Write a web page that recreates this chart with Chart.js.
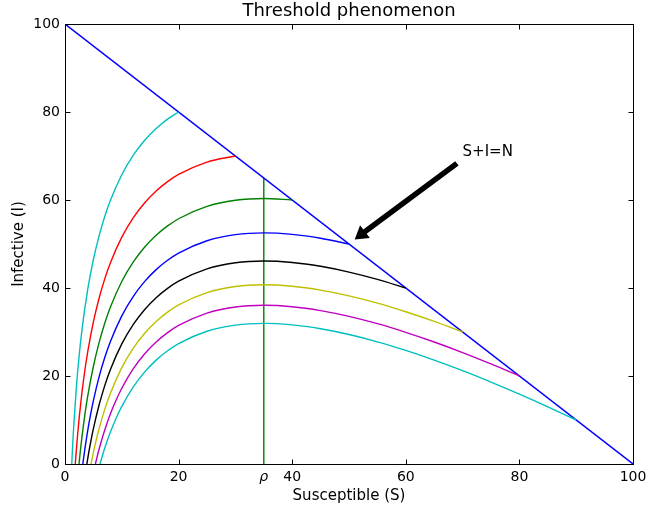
<!DOCTYPE html>
<html><head><meta charset="utf-8">
<script src="https://cdn.jsdelivr.net/npm/chart.js@4.4.1/dist/chart.umd.min.js"></script>
<style>html,body{margin:0;padding:0;background:#fff}</style>
</head><body>
<canvas id="c" width="647" height="508" style="display:block;width:647px;height:508px"></canvas>
<script>
// ---- tick labels ----
const xTickValues = [0, 20, 35, 40, 60, 80, 100];
const xTickLabels = ['0', '20', 'ρ', '40', '60', '80', '100'];
const yTickValues = [0, 20, 40, 60, 80, 100];
const rho = 35;

// ---- trajectories: susceptible (S) and infective (I) ----
const S20 = [1.19, 1.3, 1.5, 2, 2.5, 3, 4, 5, 6, 7, 8, 10, 12, 14, 16, 18, 20];
const I20 = [0, 3.03, 7.84, 17.41, 24.72, 30.60, 39.67, 46.48, 51.86, 56.26, 59.93, 65.74, 70.12, 73.52, 76.19, 78.31, 80.00];

const S30 = [1.81, 2, 2.2, 2.5, 3, 3.5, 4, 5, 6, 7, 8, 10, 12, 14, 16, 18, 20, 25, 30];
const I30 = [0, 3.22, 6.36, 10.53, 16.41, 21.31, 25.48, 32.29, 37.67, 42.07, 45.74, 51.55, 55.93, 59.33, 62.00, 64.12, 65.81, 68.62, 70.00];

const S40 = [2.47, 2.7, 3, 3.5, 4, 5, 6, 7, 8, 10, 12, 14, 16, 18, 20, 25, 30, 35, 40];
const I40 = [0, 2.95, 6.34, 11.24, 15.41, 22.22, 27.60, 32.00, 35.67, 41.48, 45.86, 49.26, 51.93, 54.05, 55.74, 58.55, 59.93, 60.33, 60.00];

const S50 = [3.14, 3.3, 3.5, 4, 4.5, 5, 6, 7, 8, 10, 12, 14, 16, 18, 20, 25, 30, 35, 40, 45, 50];
const I50 = [0, 1.57, 3.43, 7.60, 11.22, 14.41, 19.79, 24.19, 27.86, 33.67, 38.05, 41.45, 44.12, 46.24, 47.93, 50.74, 52.12, 52.52, 52.19, 51.31, 50.00];

const S60 = [3.85, 4, 4.2, 4.5, 5, 6, 7, 8, 10, 12, 14, 16, 18, 20, 25, 30, 35, 40, 45, 50, 55, 60];
const I60 = [0, 1.22, 2.73, 4.84, 8.03, 13.41, 17.81, 21.48, 27.29, 31.67, 35.07, 37.74, 39.86, 41.55, 44.36, 45.74, 46.14, 45.81, 44.93, 43.62, 41.96, 40.00];

const S70 = [4.58, 4.8, 5, 5.5, 6, 7, 8, 10, 12, 14, 16, 18, 20, 25, 30, 35, 40, 45, 50, 55, 60, 65, 70];
const I70 = [0, 1.40, 2.63, 5.47, 8.01, 12.41, 16.08, 21.89, 26.27, 29.67, 32.34, 34.46, 36.15, 38.96, 40.34, 40.74, 40.41, 39.53, 38.22, 36.56, 34.60, 32.40, 30.00];

const S80 = [5.35, 5.6, 6, 6.5, 7, 8, 9, 10, 12, 14, 16, 18, 20, 25, 30, 35, 40, 45, 50, 55, 60, 65, 70, 75, 80];
const I80 = [0, 1.33, 3.34, 5.64, 7.74, 11.41, 14.53, 17.22, 21.60, 25.00, 27.67, 29.79, 31.48, 34.29, 35.67, 36.07, 35.74, 34.86, 33.55, 31.89, 29.93, 27.73, 25.33, 22.74, 20.00];

const S90 = [6.16, 6.5, 7, 7.5, 8, 9, 10, 12, 14, 16, 18, 20, 25, 30, 35, 40, 45, 50, 55, 60, 65, 70, 75, 80, 85, 90];
const I90 = [0, 1.52, 3.62, 5.53, 7.29, 10.41, 13.10, 17.48, 20.88, 23.55, 25.67, 27.36, 30.17, 31.55, 31.95, 31.62, 30.74, 29.43, 27.77, 25.81, 23.61, 21.21, 18.62, 15.88, 13.00, 10.00];

// line S + I = N
const lineS = [0, 100];
const lineI = [100, 0];
// threshold line S = rho
const rhoS = [35, 35];
const rhoI = [0, 65];

// annotation
const annText = 'S+I=N';
const annTextAt = [70, 70];
const annArrowTo = [50, 50];

function pts(xs, ys) { return xs.map((v, i) => ({x: v, y: ys[i]})); }

const curveDefs = [
  [S20, I20, '#00bfbf'],
  [S30, I30, '#ff0000'],
  [S40, I40, '#008000'],
  [S50, I50, '#0000ff'],
  [S60, I60, '#000000'],
  [S70, I70, '#bfbf00'],
  [S80, I80, '#bf00bf'],
  [S90, I90, '#00bfbf']
];

const LW = 1.4;
const datasets = curveDefs.map(([s, i, c]) => ({
  data: pts(s, i), borderColor: c, borderWidth: LW, pointRadius: 0,
  cubicInterpolationMode: 'monotone', fill: false
}));
datasets.push({data: pts(lineS, lineI), borderColor: '#0000ff', borderWidth: LW, pointRadius: 0, tension: 0, fill: false});
datasets.push({data: pts(rhoS, rhoI), borderColor: '#008000', borderWidth: LW, pointRadius: 0, tension: 0, fill: false});

const FONT = "'DejaVu Sans', sans-serif";

const decor = {
  id: 'decor',
  afterDatasetsDraw(chart) {
    const {ctx, chartArea: a, scales: {x, y}} = chart;
    ctx.save();
    ctx.strokeStyle = '#000';
    ctx.lineWidth = 1;
    const L = Math.round(a.left) + 0.5, R = Math.round(a.right) + 0.5;
    const T = Math.round(a.top) + 0.5, B = Math.round(a.bottom) + 0.5;
    ctx.beginPath();
    yTickValues.forEach(v => {
      const p = Math.round(y.getPixelForValue(v)) + 0.5;
      ctx.moveTo(L, p); ctx.lineTo(L + 5, p);
      ctx.moveTo(R, p); ctx.lineTo(R - 5, p);
    });
    xTickValues.filter(v => v !== rho).forEach(v => {
      const p = Math.round(x.getPixelForValue(v)) + 0.5;
      ctx.moveTo(p, B); ctx.lineTo(p, B - 5);
      ctx.moveTo(p, T); ctx.lineTo(p, T + 5);
    });
    ctx.stroke();
    ctx.strokeRect(L, T, R - L, B - T);

    // annotation text
    const tx = x.getPixelForValue(annTextAt[0]), ty = y.getPixelForValue(annTextAt[1]);
    ctx.fillStyle = '#000';
    ctx.font = '15px ' + FONT;
    ctx.textAlign = 'left';
    ctx.textBaseline = 'alphabetic';
    ctx.fillText(annText, tx, ty);

    // arrow (shrink 5% at both ends)
    const hx = x.getPixelForValue(annArrowTo[0]), hy = y.getPixelForValue(annArrowTo[1]);
    const dx = hx - tx, dy = hy - ty, len = Math.hypot(dx, dy);
    const ux = dx / len, uy = dy / len;
    const sx = tx + ux * len * 0.05, sy = ty + uy * len * 0.05 + 3;
    const ex = hx - ux * len * 0.05, ey = hy - uy * len * 0.05;
    const vx = -uy, vy = ux;
    const sw = 2.8, hw = 8, hl = 13;
    const bx = ex - ux * hl, by = ey - uy * hl;
    ctx.beginPath();
    ctx.moveTo(sx + vx * sw, sy + vy * sw);
    ctx.lineTo(bx + vx * sw, by + vy * sw);
    ctx.lineTo(bx + vx * hw, by + vy * hw);
    ctx.lineTo(ex, ey);
    ctx.lineTo(bx - vx * hw, by - vy * hw);
    ctx.lineTo(bx - vx * sw, by - vy * sw);
    ctx.lineTo(sx - vx * sw, sy - vy * sw);
    ctx.closePath();
    ctx.fill();
    ctx.restore();
  }
};

new Chart(document.getElementById('c'), {
  type: 'line',
  data: {datasets},
  options: {
    responsive: false,
    animation: false,
    devicePixelRatio: 1,
    layout: {padding: {left: 0, right: 14, top: 0, bottom: 0}},
    plugins: {
      legend: {display: false},
      tooltip: {enabled: false},
      title: {
        display: true, fullSize: false, text: 'Threshold phenomenon', color: '#000',
        font: {family: FONT, size: 18, weight: 'normal', lineHeight: '20px'},
        padding: {top: 1, bottom: 3}
      }
    },
    scales: {
      x: {
        type: 'linear', min: 0, max: 100,
        grid: {display: false, drawTicks: false},
        border: {display: false},
        afterBuildTicks: s => { s.ticks = xTickValues.map(v => ({value: v})); },
        afterFit: s => { s.height = 44; s.paddingLeft = 0; s.paddingRight = 0; },
        ticks: {
          autoSkip: false, maxRotation: 0, padding: 5, color: '#000',
          font: ctx => (ctx.tick && ctx.tick.value === rho)
            ? {family: FONT, size: 14, style: 'italic'}
            : {family: FONT, size: 14},
          callback: v => xTickLabels[xTickValues.indexOf(v)]
        },
        title: {display: true, text: 'Susceptible (S)', color: '#000',
          font: {family: FONT, size: 15}, padding: {top: 0, bottom: 3}}
      },
      y: {
        type: 'linear', min: 0, max: 100,
        grid: {display: false, drawTicks: false},
        border: {display: false},
        afterBuildTicks: s => { s.ticks = yTickValues.map(v => ({value: v})); },
        afterFit: s => { s.width = 65; s.paddingTop = 0; s.paddingBottom = 0; },
        ticks: {padding: 5, color: '#000', font: {family: FONT, size: 14}},
        title: {display: true, text: 'Infective (I)', color: '#000',
          font: {family: FONT, size: 15}, padding: {top: 10, bottom: 0}}
      }
    }
  },
  plugins: [decor]
});
</script>
</body></html>
